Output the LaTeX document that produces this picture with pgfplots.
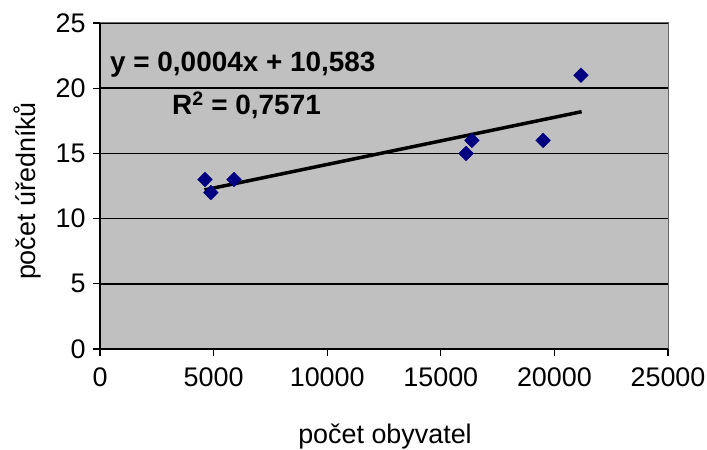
\documentclass[border=0pt]{standalone}
\usepackage{pgfplots}
\pgfplotsset{compat=1.18}
\usepackage{fontspec}
\setmainfont{Liberation Sans}
\definecolor{plotgray}{RGB}{192,192,192}
\definecolor{navy}{RGB}{0,0,128}
\begin{document}
\begin{tikzpicture}
\path[use as bounding box] (0,0) rectangle (707bp,450bp);
\begin{axis}[
  at={(100bp,101bp)}, anchor=south west,
  scale only axis, width=568bp, height=326bp,
  xmin=0, xmax=25000, ymin=0, ymax=25,
  xtick={0,5000,...,25000}, ytick={0,5,...,25},
  scaled x ticks=false,
  /pgf/number format/assume math mode=true,
  /pgf/number format/set thousands separator={},
  tick label style={font=\fontsize{27}{32}\selectfont},
  axis background/.style={fill=plotgray},
  axis line style={draw=none},
  tick align=outside, tickpos=left,
  major tick length=7bp,
  tick style={black, line width=1.3bp},
  ymajorgrids, grid style={black, line width=1.6bp},
  xticklabel style={yshift=-8bp},
  yticklabel style={xshift=-4bp},
  clip=false,
]
\draw[draw=gray!80!black, line width=1bp] (axis cs:0,25) -- (axis cs:25000,25) -- (axis cs:25000,0);
\draw[black, line width=1.6bp] (axis cs:0,0) -- (axis cs:25000,0);
\draw[black, line width=1.6bp] (axis cs:0,0) -- (axis cs:0,25);
\addplot[only marks, mark=square*, mark size=5.2bp, mark options={rotate=45, fill=navy, draw=navy}]
  coordinates {(4620,13) (4880,12) (5900,13) (16110,15) (16370,16) (19500,16) (21170,21)};
\addplot[black, line width=3.5bp, no marks] coordinates {(4600,12.2) (21200,18.2)};
\end{axis}
\node[anchor=west, inner sep=0pt, font=\fontsize{28}{33}\selectfont\bfseries] at (110bp,385bp) {y = 0,0004x + 10,583};
\node[anchor=west, inner sep=0pt, font=\fontsize{28}{33}\selectfont\bfseries] at (172bp,345bp) {R\textsuperscript{2} = 0,7571};
\node[rotate=90, font=\fontsize{27}{32}\selectfont] at (27bp,259bp) {počet úředníků};
\node[font=\fontsize{27}{32}\selectfont] at (385bp,14bp) {počet obyvatel};
\end{tikzpicture}
\end{document}
